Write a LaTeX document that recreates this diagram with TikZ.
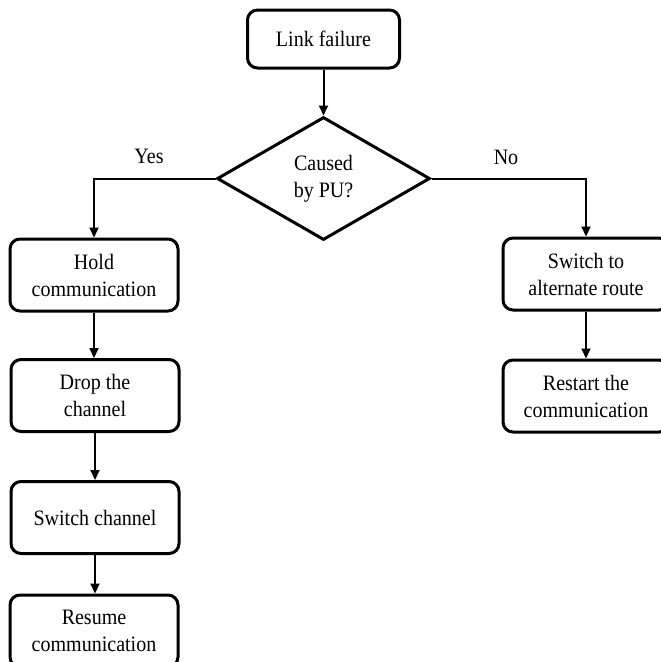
\documentclass[tikz,border=0pt]{standalone}
\usepackage{fontspec}
\setmainfont{Liberation Serif}
% slightly condensed serif so the letters stand a little taller
\newfontfamily\flowfont[FakeStretch=0.91]{Liberation Serif}
\usetikzlibrary{shapes.geometric,arrows.meta}
\begin{document}
\begin{tikzpicture}[x=1pt,y=-1pt,
  box/.style={draw,line width=3pt,rounded corners=10pt,minimum width=168pt,minimum height=72pt,
    inner sep=0pt,align=center,font=\flowfont\fontsize{22}{27}\selectfont},
  decision/.style={draw,diamond,line width=3pt,minimum width=213pt,minimum height=123pt,
    inner sep=0pt,align=center,font=\flowfont\fontsize{22}{27}\selectfont},
  flow/.style={line width=2pt,-{Triangle[length=10pt,width=9pt]}},
  lbl/.style={font=\flowfont\fontsize{22}{24}\selectfont,inner sep=0pt}]
  \useasboundingbox (0,0) rectangle (661,662);
  \clip (0,0) rectangle (661,662);
  % start
  \node[box,minimum width=152pt,minimum height=58pt] (lf) at (323.5,39) {Link failure};
  % decision
  \node[decision] (dia) at (323.5,178.5) {Caused\\by PU?};
  % left branch
  \node[box] (hold) at (94,275) {Hold\\communication};
  \node[box] (drop) at (95,395.5) {Drop the\\channel};
  \node[box] (swc) at (95,517.5) {Switch channel};
  \node[box] (res) at (94,631) {Resume\\communication};
  % right branch
  \node[box,minimum width=166pt] (alt) at (586,274) {Switch to\\alternate route};
  \node[box,minimum width=166pt] (rst) at (586,396) {Restart the\\communication};
  % labels
  \node[lbl] (yes) at (149,156) {Yes};
  \node[lbl] (no) at (506,157) {No};
  % connectors
  \draw[flow] (lf.south) -- (dia.north);
  \draw[flow] (dia.west) -| (hold.north);
  \draw[flow] (dia.east) -| (alt.north);
  \draw[flow] (hold.south) -- (hold.south |- drop.north);
  \draw[flow] (drop.south) -- (drop.south |- swc.north);
  \draw[flow] (swc.south) -- (swc.south |- res.north);
  \draw[flow] (alt.south) -- (rst.north);
\end{tikzpicture}
\end{document}
